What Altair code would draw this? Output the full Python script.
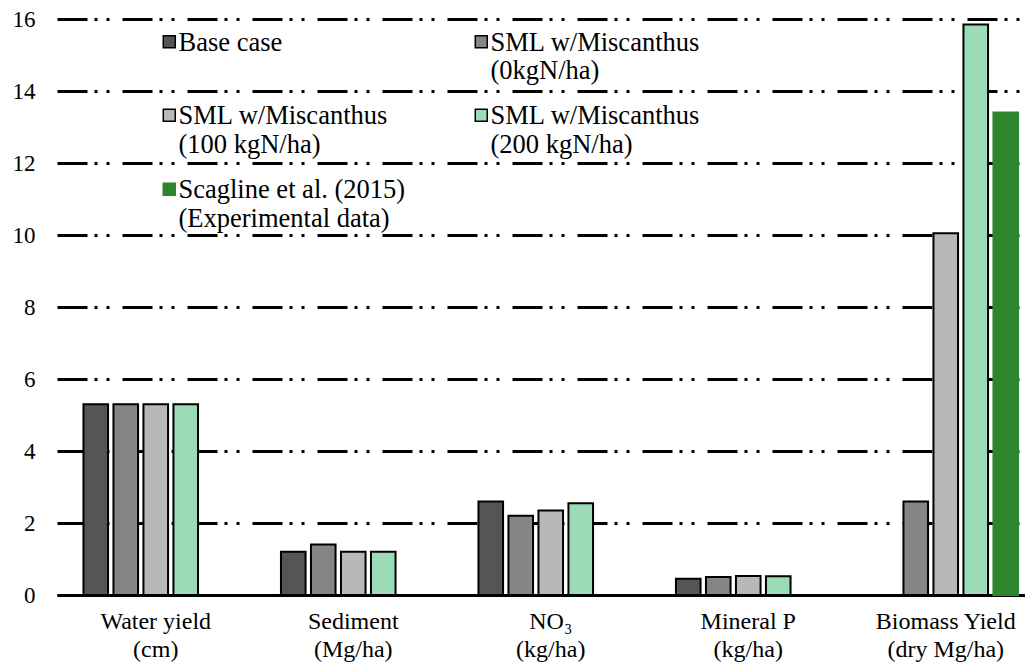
import altair as alt
import pandas as pd

categories = ["Water yield\n(cm)", "Sediment\n(Mg/ha)", "NO₃\n(kg/ha)",
              "Mineral P\n(kg/ha)", "Biomass Yield\n(dry Mg/ha)"]
series = ["Base case\n\u00a0",
          "SML w/Miscanthus\n\u00a0(0kgN/ha)",
          "SML w/Miscanthus\n\u00a0(100 kgN/ha)",
          "SML w/Miscanthus\n\u00a0(200 kgN/ha)",
          "Scagline et al. (2015)\n(Experimental data)"]
base_case = [5.3, 1.2, 2.6, 0.45, None]
sml_0 = [5.3, 1.4, 2.2, 0.5, 2.6]
sml_100 = [5.3, 1.2, 2.35, 0.53, 10.05]
sml_200 = [5.3, 1.2, 2.55, 0.52, 15.85]
scagline = [None, None, None, None, 13.4]
y_ticks = [0, 2, 4, 6, 8, 10, 12, 14, 16]

fills = ["#555555", "#858585", "#b8b8b8", "#9bdcb6", "#2d862d"]
strokes = ["black", "black", "black", "black", "#2d862d"]

rows = []
for s, vals in zip(series, [base_case, sml_0, sml_100, sml_200, scagline]):
    for c, v in zip(categories, vals):
        if v is not None:
            rows.append({"category": c, "series": s, "value": v})
df = pd.DataFrame(rows)

FONT = "Liberation Serif, Times New Roman, serif"

def legend():
    return alt.Legend(title=None, orient="none", legendX=95, legendY=-3,
                      direction="horizontal",
                      columns=2, columnPadding=58, rowPadding=5,
                      symbolType="M-0.33,1H1.67V3H-0.33Z", symbolSize=144,
                      symbolStrokeWidth=1.5, labelFont=FONT,
                      labelFontSize=26.5, labelColor="black",
                      labelLimit=0, labelOffset=0,
                      labelExpr="split(datum.label, '\\n')",
                      labelBaseline="top")

chart = alt.Chart(df).mark_bar(strokeWidth=2).encode(
    x=alt.X("category:N", sort=categories,
            scale=alt.Scale(domain=categories, range=[0, 987.5],
                            paddingInner=0.268, paddingOuter=0.134),
            axis=alt.Axis(title=None, labelAngle=0, labelFont=FONT, labelFontSize=24,
                          labelColor="black", labelExpr="split(datum.label, '\\n')",
                          labelLineHeight=28, labelBaseline="top", labelPadding=14,
                          ticks=False, domainColor="black", domainWidth=3,
                          labelLimit=0)),
    xOffset=alt.XOffset("series:N", sort=series,
                        scale=alt.Scale(domain=series, paddingInner=0.18, paddingOuter=0)),
    y=alt.Y("value:Q",
            scale=alt.Scale(domain=[0, 16], nice=False),
            axis=alt.Axis(title=None, values=y_ticks, labelFont=FONT, labelFontSize=23,
                          labelColor="black", labelPadding=22, ticks=False, domain=False,
                          grid=True, gridColor="black", gridWidth=3, gridOpacity=1,
                          gridDash=[30, 7, 3, 9, 3, 13])),
    color=alt.Color("series:N", sort=series,
                    scale=alt.Scale(domain=series, range=fills),
                    legend=legend()),
    stroke=alt.Stroke("series:N", sort=series,
                      scale=alt.Scale(domain=series, range=strokes),
                      legend=legend()),
).properties(
    width=968, height=576,
    autosize=alt.AutoSizeParams(type="none"),
    padding={"left": 49, "top": 11, "right": 0, "bottom": 69},
).configure_view(stroke=None)

chart.save("out.html", embed_options={"renderer": "svg", "actions": False})
